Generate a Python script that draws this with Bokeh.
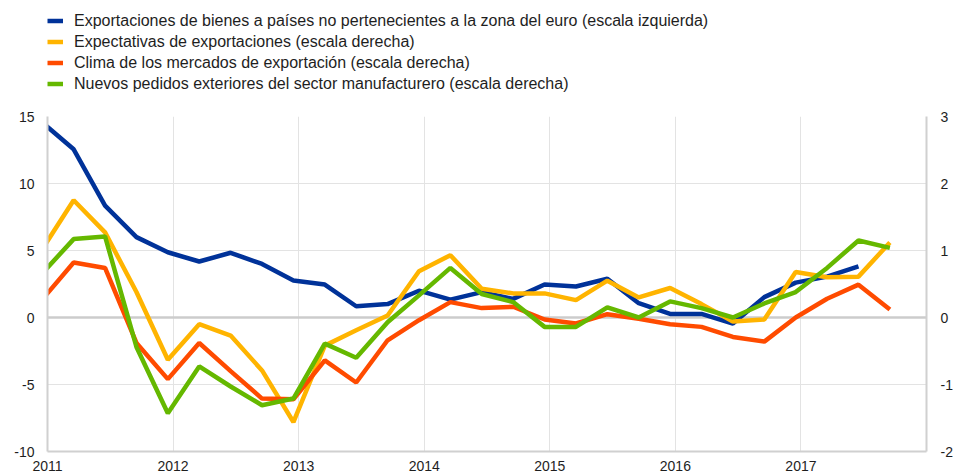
from bokeh.plotting import figure
from bokeh.layouts import column
from bokeh.models import (Range1d, LinearAxis, FixedTicker, Legend, LegendItem, Span,
                          CustomJSTickFormatter)
from bokeh.embed import file_html
from bokeh.resources import INLINE

# ---- data -------------------------------------------------------------
quarters = ["2010Q4",
            "2011Q1", "2011Q2", "2011Q3", "2011Q4",
            "2012Q1", "2012Q2", "2012Q3", "2012Q4",
            "2013Q1", "2013Q2", "2013Q3", "2013Q4",
            "2014Q1", "2014Q2", "2014Q3", "2014Q4",
            "2015Q1", "2015Q2", "2015Q3", "2015Q4",
            "2016Q1", "2016Q2", "2016Q3", "2016Q4",
            "2017Q1", "2017Q2", "2017Q3"]

# left scale (percentage changes)
exports_extra_ea = [14.55, 12.55, 8.35, 6.0, 4.87, 4.18, 4.83, 4.0, 2.76,
                    2.46, 0.84, 1.0, 2.0, 1.33, 1.89, 1.39, 2.46,
                    2.31, 2.89, 1.07, 0.27, 0.27, -0.45, 1.52, 2.6,
                    3.05, 3.82]

# right scale (standardised)
export_expectations = [1.02, 1.75, 1.27, 0.38, -0.63, -0.10, -0.27, -0.79, -1.56,
                       -0.42, -0.19, 0.03, 0.69, 0.93, 0.43, 0.36, 0.36,
                       0.26, 0.55, 0.30, 0.44, 0.20, -0.06, -0.03, 0.68,
                       0.60, 0.61, 1.12]
export_market_climate = [0.27, 0.82, 0.74, -0.38, -0.92, -0.38, -0.80, -1.21, -1.22,
                         -0.64, -0.97, -0.34, -0.04, 0.23, 0.14, 0.16, -0.03,
                         -0.09, 0.05, -0.02, -0.10, -0.14, -0.29, -0.36, 0.00,
                         0.28, 0.49, 0.12]
new_export_orders = [0.66, 1.17, 1.21, -0.44, -1.43, -0.73, -1.03, -1.31, -1.21,
                     -0.39, -0.60, -0.07, 0.33, 0.74, 0.35, 0.23, -0.14,
                     -0.14, 0.15, 0.00, 0.24, 0.14, 0.00, 0.21, 0.38,
                     0.74, 1.15, 1.04]

year_ticks = [2011, 2012, 2013, 2014, 2015, 2016, 2017]
left_ticks = [-10, -5, 0, 5, 10, 15]
right_ticks = [-2, -1, 0, 1, 2, 3]

labels = ["Exportaciones de bienes a países no pertenecientes a la zona del euro (escala izquierda)",
          "Expectativas de exportaciones (escala derecha)",
          "Clima de los mercados de exportación (escala derecha)",
          "Nuevos pedidos exteriores del sector manufacturero (escala derecha)"]
colors = ["#003299", "#FFB400", "#FF4B00", "#65B800"]


def qpos(q):
    # middle of the last month of the quarter, in decimal years
    y = int(q[:4])
    n = int(q[-1])
    return y + (3 * n - 0.5) / 12.0


x = [qpos(q) for q in quarters]
series = [(x[:len(exports_extra_ea)], exports_extra_ea, "default"),
          (x, export_expectations, "right"),
          (x, export_market_climate, "right"),
          (x, new_export_orders, "right")]

FONT = "Liberation Sans"
TXT = "#1e1e1e"
GRID = "#e3e3e3"
AXIS = "#d0d0d0"
LW = 4.5
W = 955
LEG_H = 100

# ---- legend strip (its lines lie outside its own ranges: only the keys show)
lf = figure(width=W, height=LEG_H, output_backend="svg", toolbar_location=None,
            x_range=Range1d(0, 1), y_range=Range1d(100, 101),
            min_border=0, x_axis_type=None, y_axis_type=None)
lf.outline_line_color = None
lf.grid.visible = False
leg_renderers = [lf.line(sx, sy, line_color=c, line_width=LW)
                 for (sx, sy, _), c in zip(series, colors)]
legend = Legend(items=[LegendItem(label=labels[i], renderers=[r]) for i, r in enumerate(leg_renderers)],
                location=(0, 6))
legend.padding = 0
legend.margin = 0
legend.border_line_color = None
legend.background_fill_alpha = 0
legend.glyph_width = 16
legend.glyph_height = 21
legend.label_height = 21
legend.spacing = 0
legend.label_standoff = 11
legend.label_text_font = FONT
legend.label_text_font_size = "16px"
legend.label_text_color = TXT
lf.add_layout(legend)

# ---- chart -------------------------------------------------------------
p = figure(width=W, height=474 - LEG_H, output_backend="svg", toolbar_location=None,
           x_range=Range1d(2011, 2018), y_range=Range1d(-10, 15),
           min_border_left=47, min_border_right=29,
           min_border_top=116 - LEG_H, min_border_bottom=23)
p.extra_y_ranges = {"right": Range1d(-2, 3)}
p.outline_line_color = None

plain = CustomJSTickFormatter(code="return String(tick);")
p.xaxis.ticker = FixedTicker(ticks=year_ticks)
p.yaxis.ticker = FixedTicker(ticks=left_ticks)
raxis = LinearAxis(y_range_name="right", ticker=FixedTicker(ticks=right_ticks))
p.add_layout(raxis, "right")

for ax in [p.xaxis[0], p.yaxis[0], raxis]:
    ax.formatter = plain
    ax.major_tick_line_color = None
    ax.minor_tick_line_color = None
    ax.major_tick_out = 0
    ax.major_tick_in = 0
    ax.axis_line_color = AXIS
    ax.axis_line_width = 2
    ax.major_label_text_font = FONT
    ax.major_label_text_font_size = "14px"
    ax.major_label_text_color = TXT

p.yaxis[0].major_label_standoff = 13
raxis.major_label_standoff = 14
p.xaxis[0].major_label_standoff = 9

p.xgrid.ticker = FixedTicker(ticks=year_ticks)
p.ygrid.ticker = FixedTicker(ticks=left_ticks)
p.xgrid.grid_line_color = GRID
p.ygrid.grid_line_color = GRID
p.xgrid.grid_line_width = 1
p.ygrid.grid_line_width = 1

zero = Span(location=0, dimension="width", line_color="#cccccc", line_width=2.5,
            level="underlay")
p.add_layout(zero)

for (sx, sy, rng), c in zip(series, colors):
    p.line(sx, sy, line_color=c, line_width=LW, y_range_name=rng)

layout = column(lf, p, spacing=0)
open("out.html", "w").write(file_html(layout, INLINE))
